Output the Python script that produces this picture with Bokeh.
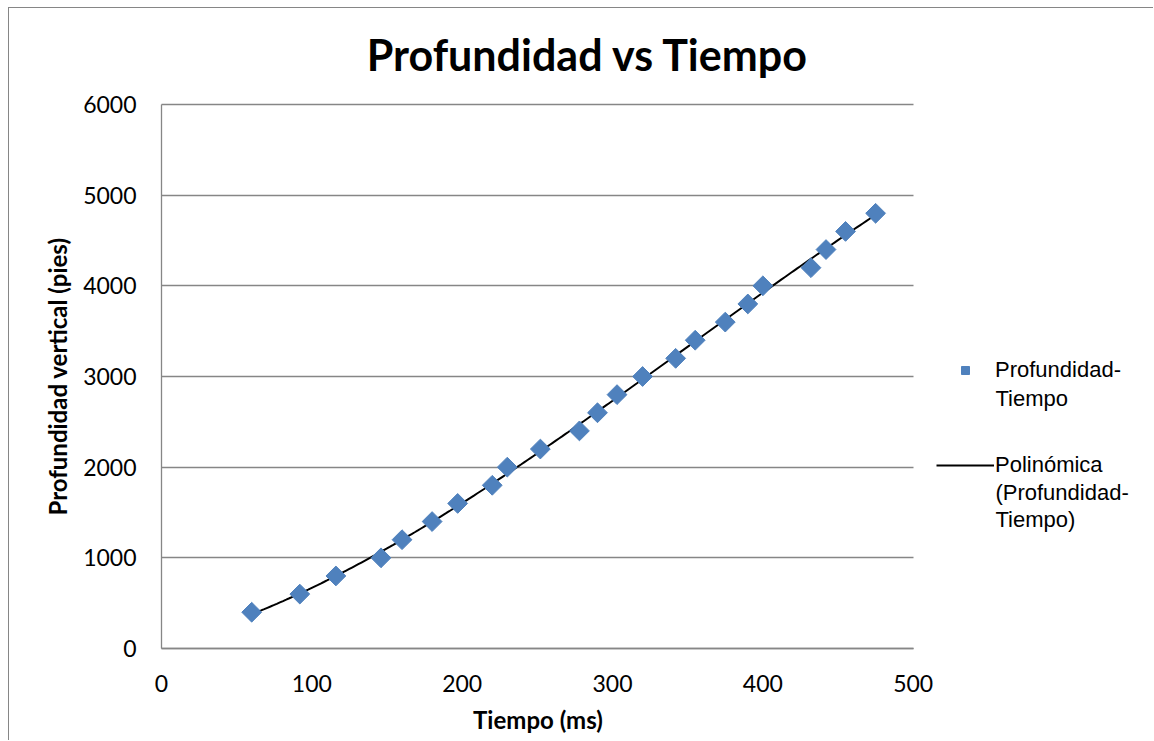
import numpy as np
from bokeh.plotting import figure
from bokeh.models import Label, Legend, LegendItem, Range1d, FixedTicker
from bokeh.embed import file_html
from bokeh.resources import INLINE

# Data
tiempo_ms = [60, 92, 116, 146, 160, 180, 197, 220, 230, 252, 278, 290, 303,
             320, 342, 355, 375, 390, 400, 432, 442, 455, 475]
profundidad_pies = [400, 600, 800, 1000, 1200, 1400, 1600, 1800, 2000, 2200,
                    2400, 2600, 2800, 3000, 3200, 3400, 3600, 3800, 4000,
                    4200, 4400, 4600, 4800]
x_ticks = [0, 100, 200, 300, 400, 500]
y_ticks = [0, 1000, 2000, 3000, 4000, 5000, 6000]

title_text = "Profundidad vs Tiempo"
x_title = "Tiempo (ms)"
y_title = "Profundidad vertical (pies)"
serie_label = ["Profundidad-", "Tiempo"]
trend_label = ["Polinómica", "(Profundidad-", "Tiempo)"]

# Polynomial trend line fitted to the points (as the spreadsheet does)
coef = np.polyfit(tiempo_ms, profundidad_pies, 3)
tx = np.linspace(min(tiempo_ms), max(tiempo_ms), 200)
ty = np.polyval(coef, tx)

CAL = "Lato"
GRID = "#868686"
BLUE = "#4F81BD"

# The frame covers the whole chart area; axes sit at fixed data locations
p = figure(width=1145, height=733, output_backend="svg", toolbar_location=None,
           x_range=Range1d(-101.1, 660.5), y_range=Range1d(-1025.7, 7058.6),
           min_border_left=0, min_border_right=0,
           min_border_top=0, min_border_bottom=0)
p.styles = {"margin-left": "8px", "margin-top": "7px",
            "border-top": "1px solid #868686", "border-left": "1px solid #868686"}
p.outline_line_color = None
p.background_fill_color = "white"
p.border_fill_color = "white"

# axes
p.xaxis.ticker = FixedTicker(ticks=x_ticks)
p.yaxis.ticker = FixedTicker(ticks=y_ticks)
p.xaxis.bounds = (x_ticks[0], x_ticks[-1])
p.yaxis.bounds = (y_ticks[0], y_ticks[-1])
p.xaxis.fixed_location = 0
p.yaxis.fixed_location = 0
for ax in (p.xaxis[0], p.yaxis[0]):
    ax.axis_line_color = GRID
    ax.axis_line_width = 1.3
    ax.major_tick_line_color = None
    ax.minor_tick_line_color = None
    ax.major_tick_out = 0
    ax.major_tick_in = 0
    ax.minor_tick_out = 0
    ax.major_label_text_font = CAL
    ax.major_label_text_font_size = "23px"
    ax.major_label_text_color = "black"
p.xaxis.major_label_standoff = 26
p.yaxis.major_label_standoff = 25

p.xgrid.grid_line_color = None
p.ygrid.grid_line_color = GRID
p.ygrid.grid_line_width = 1.3
p.ygrid.bounds = (y_ticks[0], y_ticks[-1])
p.ygrid.cross_bounds = (x_ticks[0], x_ticks[-1])

# trend line and points
trend = p.line(tx, ty, line_color="black", line_width=2)
pts = p.scatter(tiempo_ms, profundidad_pies, marker="square", angle=np.pi / 4,
                size=14, fill_color=BLUE, line_color=BLUE)

# title and axis titles
p.add_layout(Label(x=283.7, y=6551, text=title_text, text_align="center",
                   text_baseline="alphabetic", text_font=CAL,
                   text_font_style="bold", text_font_size="43px",
                   text_color="black"))
p.add_layout(Label(x=250.4, y=-783, text=x_title, text_align="center",
                   text_baseline="alphabetic", text_font=CAL,
                   text_font_style="bold", text_font_size="24px",
                   text_color="black"))
p.add_layout(Label(x=-69.4, y=3000, text=y_title, text_align="center",
                   text_baseline="alphabetic", angle=np.pi / 2,
                   text_font=CAL, text_font_style="bold",
                   text_font_size="24px", text_color="black"))

# legend (first lines with glyphs)
leg_kw = dict(padding=0, margin=0, spacing=0, glyph_width=58, glyph_height=20,
              label_standoff=1, label_text_font="Liberation Sans",
              label_text_font_size="22px", label_text_color="black",
              border_line_color=None, background_fill_alpha=0)
leg1 = Legend(items=[LegendItem(label=serie_label[0], renderers=[pts])],
              location=(927, 358), **leg_kw)
leg2 = Legend(items=[LegendItem(label=trend_label[0], renderers=[trend])],
              location=(927, 263), **leg_kw)
p.add_layout(leg1)
p.add_layout(leg2)

LX = 554.7
for txt, yy in [(serie_label[1], 2757), (trend_label[1], 1720), (trend_label[2], 1426)]:
    p.add_layout(Label(x=LX, y=yy, text=txt, text_align="left",
                       text_baseline="alphabetic",
                       text_font="Liberation Sans",
                       text_font_size="22px", text_color="black"))

open("out.html", "w").write(file_html(p, INLINE))
